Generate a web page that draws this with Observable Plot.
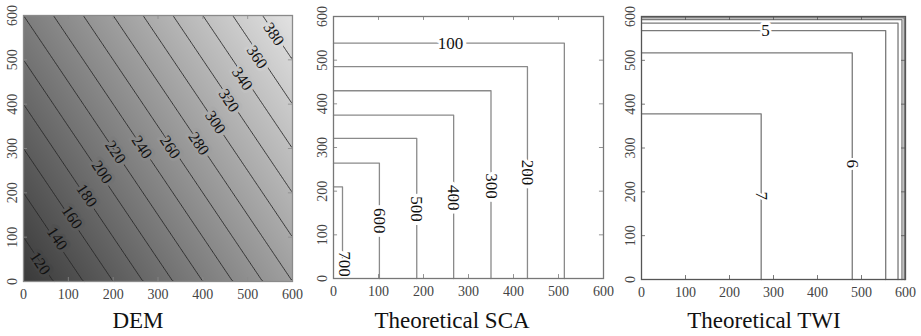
<!DOCTYPE html>
<html><head><meta charset="utf-8">
<script src="https://cdn.jsdelivr.net/npm/d3@7"></script>
<script src="https://cdn.jsdelivr.net/npm/@observablehq/plot@0.6"></script>
<style>
body{margin:0;background:#fff;}
#wrap{position:relative;width:921px;height:336px;overflow:hidden;font-family:"Liberation Serif","Times New Roman",serif;}
#wrap svg{position:absolute;top:0;}
.title{position:absolute;top:309px;font-size:23px;color:#111;transform:translateX(-50%);white-space:nowrap;line-height:1;}
</style></head><body><div id="wrap"></div>
<script>
// ---------- data ----------
const tickValues = [0, 100, 200, 300, 400, 500, 600];
const tickLabels = ["0", "100", "200", "300", "400", "500", "600"];
const innerTicks = [100, 200, 300, 400, 500];
const titles = ["DEM", "Theoretical SCA", "Theoretical TWI"];

// DEM: elevation at the four corners of the 600 x 600 domain
const demCornerX = [0, 600, 0, 600];
const demCornerY = [0, 0, 600, 600];
const demCornerZ = [100, 280, 220, 400];
const demLevels = [120, 140, 160, 180, 200, 220, 240, 260, 280, 300, 320, 340, 360, 380];
const demLabelX = [37, 75, 108, 141, 175, 205, 264, 327, 391, 428, 458, 488, 521, 558];
const demLabelY = [41, 97, 145, 194, 247, 292, 303, 303, 311, 359, 408, 457, 506, 558];

// Theoretical SCA: L-shaped contours (corner of each contour)
const scaLevels = [100, 200, 300, 400, 500, 600, 700];
const scaCornerX = [513, 431, 350, 267, 185, 102, 20];
const scaCornerY = [539, 485, 430, 374, 321, 264, 210];
const scaLabelX = [260, 431, 350, 267, 185, 102, 25];
const scaLabelY = [539, 243, 212, 185, 159, 132, 33];
const scaLabelRotate = [0, 90, 90, 90, 90, 90, 90];

// Theoretical TWI: L-shaped contours
const twiLevels = [7, 6, 5, 4, 3, 2, 1];
const twiCornerX = [272, 479, 555, 583, 592, 597, 599];
const twiCornerY = [378, 517, 568, 585, 593, 597, 599];
const twiLabelText = ["7", "6", "5"];
const twiLabelX = [272, 479, 282];
const twiLabelY = [191, 264, 568];
const twiLabelRotate = [90, 90, 0];

// ---------- helpers ----------
const SERIF = "Liberation Serif";
const ticksData = tickValues.map((v, i) => ({v, t: tickLabels[i]}));
const xScale = {domain: [0, 600], axis: null};
const yScale = {domain: [0, 600], axis: null};
function frameAndAxes(frameColor) {
  return [
    Plot.ruleX(innerTicks, {x: d => d, y1: 0, y2: 9, stroke: frameColor, strokeWidth: 0.8}),
    Plot.ruleX(innerTicks, {x: d => d, y1: 591, y2: 600, stroke: frameColor, strokeWidth: 0.8}),
    Plot.ruleY(innerTicks, {y: d => d, x1: 0, x2: 9, stroke: frameColor, strokeWidth: 0.8}),
    Plot.ruleY(innerTicks, {y: d => d, x1: 591, x2: 600, stroke: frameColor, strokeWidth: 0.8}),
    Plot.frame({stroke: frameColor, strokeWidth: 1.3}),
    Plot.text(ticksData, {x: "v", text: "t", frameAnchor: "bottom", dy: 13, lineAnchor: "middle",
      fill: "#444", fontSize: 14, fontFamily: SERIF}),
    Plot.text(ticksData, {y: "v", text: "t", frameAnchor: "left", dx: -11, rotate: -90, textAnchor: "middle",
      lineAnchor: "middle", fill: "#444", fontSize: 14, fontFamily: SERIF})
  ];
}
// label = a halo layer (clears the line underneath) + the label text itself
function labels(data, opts, haloColor) {
  return [
    Plot.text(data, {...opts, fill: haloColor, stroke: haloColor, strokeWidth: 4}),
    Plot.text(data, {...opts, fill: "#111", fontFamily: SERIF})
  ];
}
function lShapes(levels, cx, cy) {
  return levels.flatMap((lv, i) => [
    {level: lv, x: 0, y: cy[i]},
    {level: lv, x: cx[i], y: cy[i]},
    {level: lv, x: cx[i], y: 0}
  ]);
}

// ---------- DEM ----------
const demPoints = demCornerZ.map((z, i) => ({x: demCornerX[i], y: demCornerY[i], z}));
const demLabels = demLevels.map((lv, i) => ({x: demLabelX[i], y: demLabelY[i], level: lv, t: String(lv)}));

const dem = Plot.plot({
  width: 307, height: 305,
  marginLeft: 23, marginRight: 15, marginTop: 15, marginBottom: 24,
  x: xScale, y: yScale,
  color: {type: "linear", domain: [100, 400], range: ["#3a3a3a", "#e2e2e2"]},
  marks: [
    Plot.raster(demPoints, {x: "x", y: "y", fill: "z", interpolate: "barycentric", x1: 0, y1: 0, x2: 600, y2: 600}),
    Plot.contour(demPoints, {x: "x", y: "y", value: "z", thresholds: demLevels, interpolate: "barycentric",
      x1: 0, y1: 0, x2: 600, y2: 600, stroke: "#262626", strokeWidth: 0.9, fill: "none"}),
    Plot.text(demLabels, {x: "x", y: "y", text: "t", rotate: 56, fill: "level", stroke: "level", strokeWidth: 4, fontSize: 16}),
    Plot.text(demLabels, {x: "x", y: "y", text: "t", rotate: 56, fill: "#111", fontSize: 16, fontFamily: SERIF}),
    ...frameAndAxes("#8a8a8a")
  ]
});

// ---------- SCA ----------
const scaLabelData = scaLevels.map((lv, i) => ({x: scaLabelX[i], y: scaLabelY[i], t: String(lv), r: scaLabelRotate[i]}));
const sca = Plot.plot({
  width: 307, height: 305,
  marginLeft: 23, marginRight: 14, marginTop: 16, marginBottom: 27,
  x: xScale, y: yScale,
  marks: [
    Plot.line(lShapes(scaLevels, scaCornerX, scaCornerY), {x: "x", y: "y", z: "level", stroke: "#8a8a8a", strokeWidth: 1.3}),
    ...labels(scaLabelData, {x: "x", y: "y", text: "t", rotate: "r", fontSize: 17}, "white"),
    ...frameAndAxes("#777")
  ]
});

// ---------- TWI ----------
const twiLabelData = twiLabelText.map((t, i) => ({x: twiLabelX[i], y: twiLabelY[i], t, r: twiLabelRotate[i]}));
const twi = Plot.plot({
  width: 306, height: 305,
  marginLeft: 26, marginRight: 16, marginTop: 16, marginBottom: 26,
  x: xScale, y: yScale,
  marks: [
    Plot.line(lShapes(twiLevels, twiCornerX, twiCornerY), {x: "x", y: "y", z: "level", stroke: "#7a7a7a", strokeWidth: 1.3}),
    ...labels(twiLabelData, {x: "x", y: "y", text: "t", rotate: "r", fontSize: 17}, "white"),
    ...frameAndAxes("#555")
  ]
});

const wrap = document.getElementById("wrap");
const lefts = [0, 310, 615];
const titleCenters = [138, 452, 764];
[dem, sca, twi].forEach((svg, i) => {
  svg.style.left = lefts[i] + "px";
  wrap.appendChild(svg);
  const t = document.createElement("div");
  t.className = "title";
  t.style.left = titleCenters[i] + "px";
  t.textContent = titles[i];
  wrap.appendChild(t);
});
</script></body></html>
